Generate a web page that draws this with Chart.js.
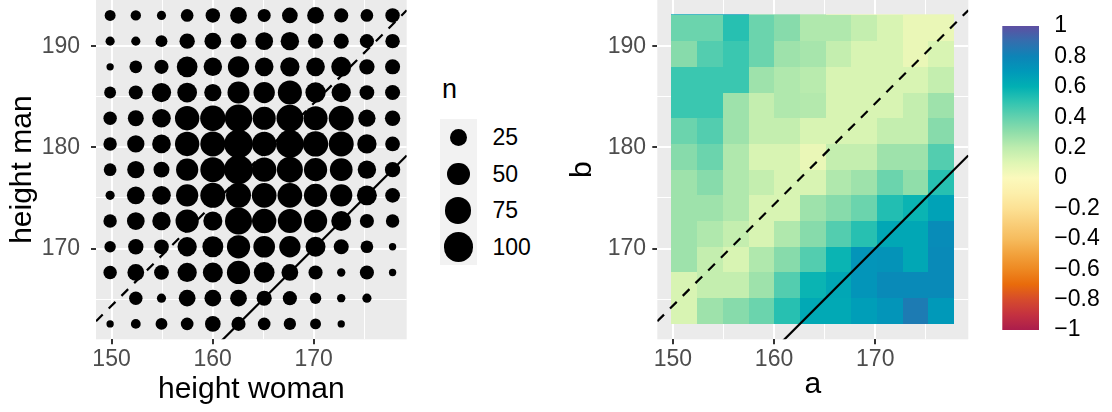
<!DOCTYPE html>
<html>
<head>
<meta charset="utf-8">
<script src="https://cdn.jsdelivr.net/npm/chart.js@4.4.1/dist/chart.umd.min.js"></script>
<style>
  html, body { margin:0; padding:0; background:#ffffff; width:1112px; height:412px; overflow:hidden;
               font-family:'Liberation Sans', Arial, Helvetica, sans-serif; }
  canvas { position:absolute; top:0; }
  #bubbleChart { left:0; }
  #heatChart { left:560px; }
  #colorBar { left:990px; }
  .lgText { position:absolute; white-space:nowrap; line-height:1; color:#000; }
  #sizeKeys { position:absolute; left:440px; top:119.3px; width:36.7px; height:145.7px; background:#F2F2F2; }
  .dot { position:absolute; background:#000; border-radius:50%; }
</style>
</head>
<body>
<canvas id="bubbleChart" width="420" height="412"></canvas>
<canvas id="heatChart" width="430" height="412"></canvas>
<canvas id="colorBar" width="122" height="412"></canvas>
<div id="sizeLegend"></div>

<script>
// ------------------------------------------------------------------ data
const womanHeights = [149.86, 152.40, 154.94, 157.48, 160.02, 162.56, 165.10, 167.64, 170.18, 172.72, 175.26, 177.80];
// listed from the top row (tallest) down to the bottom row
const manHeights = [193.04, 190.50, 187.96, 185.42, 182.88, 180.34, 177.80, 175.26, 172.72, 170.18, 167.64, 165.10, 162.56];

// number of couples for each (man height row, woman height column)
const counts = [
  [ 6,  5,  3, 10, 15, 23, 11, 19, 23, 14, 10, 15],
  [ 3,  3,  8, 18, 23, 20, 27, 30, 17, 17, 14, 15],
  [ 1, 10, 14, 41, 30, 44, 31, 34, 31, 37, 18, 17],
  [ 8, 14, 34, 36, 25, 48, 44, 60, 39, 34, 16, 17],
  [12, 20, 31, 62, 68, 82, 54, 78, 60, 66, 25, 18],
  [12, 25, 31, 62, 66, 92, 62, 85, 68, 66, 34, 16],
  [10, 25, 20, 49, 66, 95, 62, 73, 55, 52, 30, 18],
  [ 3, 27, 31, 49, 66, 66, 64, 64, 55, 49, 37, 16],
  [12, 27, 30, 55, 33, 80, 62, 60, 55, 37, 14, 12],
  [ 7, 18, 16, 34, 42, 55, 46, 44, 37, 17, 10,  1],
  [12, 23, 16, 34, 37, 55, 41, 23, 14,  2, 14,  1],
  [ 0, 12,  3, 23, 23, 23, 17, 14,  7,  2,  3,  0],
  [ 1,  4,  8, 10, 19, 14, 10,  9,  6,  1,  0,  0]
];
const sizeBreaks = [25, 50, 75, 100];

// heat map cells: row j spans manHeights[j+1]..manHeights[j], column i spans womanHeights[i]..womanHeights[i+1]
const heatValues = [
  [0.38, 0.38, 0.52, 0.38, 0.32, 0.23, 0.23, 0.18, 0.12, 0.06, 0.06],
  [0.32, 0.43, 0.48, 0.38, 0.27, 0.25, 0.18, 0.12, 0.12, 0.06, 0.12],
  [0.48, 0.48, 0.48, 0.27, 0.23, 0.21, 0.12, 0.12, 0.12, 0.12, 0.18],
  [0.48, 0.48, 0.27, 0.18, 0.23, 0.22, 0.12, 0.12, 0.12, 0.18, 0.27],
  [0.38, 0.43, 0.27, 0.18, 0.18, 0.12, 0.12, 0.12, 0.18, 0.18, 0.32],
  [0.32, 0.38, 0.23, 0.12, 0.12, 0.06, 0.18, 0.18, 0.27, 0.27, 0.43],
  [0.27, 0.32, 0.23, 0.18, 0.12, 0.12, 0.23, 0.27, 0.38, 0.30, 0.52],
  [0.27, 0.27, 0.23, 0.12, 0.12, 0.27, 0.32, 0.38, 0.53, 0.58, 0.66],
  [0.27, 0.23, 0.18, 0.12, 0.23, 0.32, 0.43, 0.52, 0.64, 0.64, 0.76],
  [0.27, 0.18, 0.12, 0.23, 0.32, 0.43, 0.58, 0.72, 0.73, 0.64, 0.77],
  [0.12, 0.18, 0.18, 0.27, 0.43, 0.58, 0.64, 0.72, 0.77, 0.77, 0.77],
  [0.12, 0.27, 0.32, 0.38, 0.52, 0.63, 0.63, 0.68, 0.72, 0.84, 0.70]
];
// thin sliver of tiles above the top row
const heatSliverValues = [0.65, 0.65, 0.70, 0.32, 0.32, 0.23, 0.08, 0.06, 0.06, 0.06, 0.06];
const heatSliverTop = 193.15;

const diagonalOffsets = { solid: 0, dashed: 14.35 };

const xMajorTicks = [150, 160, 170];
const xMinorTicks = [155, 165, 175];
const yMajorTicks = [170, 180, 190];
const yMinorTicks = [165, 175, 185];
const colorTicks = [-1, -0.8, -0.6, -0.4, -0.2, 0, 0.2, 0.4, 0.6, 0.8, 1];
const colorTickLabels = ['\u22121', '\u22120.8', '\u22120.6', '\u22120.4', '\u22120.2', '0', '0.2', '0.4', '0.6', '0.8', '1'];

// diverging palette (value -> colour)
const palette = [
  [-1.0, '#AB1D4C'], [-0.9, '#C43140'], [-0.8, '#D64B2C'], [-0.7, '#E96B0B'], [-0.6, '#EE8922'],
  [-0.5, '#F2A23D'], [-0.4, '#F6BC5E'], [-0.3, '#F9CE79'], [-0.2, '#FCE194'], [-0.1, '#FCEFAB'],
  [ 0.0, '#FBF9BC'], [ 0.1, '#DFF6B4'], [ 0.2, '#BDECAE'], [ 0.3, '#90DEAA'], [ 0.4, '#62D1AE'],
  [ 0.5, '#30C4B1'], [ 0.6, '#01B0B3'], [ 0.7, '#0099B9'], [ 0.8, '#0D84B7'], [ 0.9, '#346EAE'],
  [ 1.0, '#5E4FA2']
];

// ------------------------------------------------------------------ helpers
const FONT = "'Liberation Sans', Arial, Helvetica, sans-serif";
Chart.defaults.font.family = FONT;

function expand(vals) {
  const lo = Math.min(...vals), hi = Math.max(...vals), pad = (hi - lo) * 0.05;
  return [lo - pad, hi + pad];
}
const xLim = expand(womanHeights);
const yLim = expand(manHeights);

function sizeToDiameter(n) { return 4.85 + 2.48 * Math.sqrt(n); }

function hexToRgb(h) { return [parseInt(h.slice(1,3),16), parseInt(h.slice(3,5),16), parseInt(h.slice(5,7),16)]; }
function colorFor(v) {
  v = Math.max(-1, Math.min(1, v));
  for (let k = 0; k < palette.length - 1; k++) {
    const [v0, c0] = palette[k], [v1, c1] = palette[k + 1];
    if (v >= v0 && v <= v1) {
      const t = (v - v0) / (v1 - v0), a = hexToRgb(c0), b = hexToRgb(c1);
      return 'rgb(' + a.map((q, m) => Math.round(q + (b[m] - q) * t)).join(',') + ')';
    }
  }
  return palette[palette.length - 1][1];
}

function diagonal(off) {
  return [{ x: xLim[0], y: xLim[0] + off }, { x: xLim[1], y: xLim[1] + off }];
}

const panelBg = {
  id: 'panelBg',
  beforeDraw(chart) {
    const { ctx, chartArea: a } = chart;
    ctx.save();
    ctx.fillStyle = '#EBEBEB';
    ctx.fillRect(a.left, a.top, a.right - a.left, a.bottom - a.top);
    ctx.restore();
  }
};

function makeScales(o) {
  const xGrid = [...xMajorTicks, ...xMinorTicks].sort((a, b) => a - b);
  const yGrid = [...yMajorTicks, ...yMinorTicks].sort((a, b) => a - b);
  const isMajor = (list, c) => c.tick && list.includes(c.tick.value);
  return {
    x: {
      type: 'linear', min: xLim[0], max: xLim[1],
      afterBuildTicks: s => { s.ticks = xGrid.map(v => ({ value: v })); },
      afterFit: s => { s.height = o.xAxisHeight; s.paddingLeft = 0; s.paddingRight = 0; },
      ticks: { autoSkip: false, maxRotation: 0, minRotation: 0, padding: 1.7, color: '#4D4D4D',
               font: { family: FONT, size: 23 },
               callback: v => xMajorTicks.includes(v) ? String(v) : '' },
      grid: { color: '#FFFFFF', lineWidth: c => isMajor(xMajorTicks, c) ? 2 : 1,
              tickLength: 5, tickWidth: 2,
              tickColor: c => isMajor(xMajorTicks, c) ? '#333333' : 'rgba(0,0,0,0)' },
      border: { display: false },
      title: { display: true, text: o.xTitle, color: '#000000', font: { family: FONT, size: 30 },
               padding: { top: 0, bottom: o.xTitlePad } }
    },
    y: {
      type: 'linear', min: yLim[0], max: yLim[1],
      afterBuildTicks: s => { s.ticks = yGrid.map(v => ({ value: v })); },
      afterFit: s => { s.width = o.yAxisWidth; s.paddingTop = 0; s.paddingBottom = 0; },
      ticks: { autoSkip: false, padding: o.yTickPad, color: '#4D4D4D',
               font: { family: FONT, size: 23 },
               callback: v => yMajorTicks.includes(v) ? String(v) : '' },
      grid: { color: '#FFFFFF', lineWidth: c => isMajor(yMajorTicks, c) ? 2 : 1,
              tickLength: 5, tickWidth: 2,
              tickColor: c => isMajor(yMajorTicks, c) ? '#333333' : 'rgba(0,0,0,0)' },
      border: { display: false },
      title: { display: true, text: o.yTitle, color: '#000000', font: { family: FONT, size: 30 },
               padding: { top: o.yTitlePad, bottom: 0 } }
    }
  };
}

function lineDatasets() {
  return [
    { type: 'scatter', data: diagonal(diagonalOffsets.dashed), showLine: true, borderColor: '#000000',
      borderWidth: 2.2, borderDash: [9.5, 8.5], pointRadius: 0, clip: 0 },
    { type: 'scatter', data: diagonal(diagonalOffsets.solid), showLine: true, borderColor: '#000000',
      borderWidth: 2.2, pointRadius: 0, clip: 0 }
  ];
}

const commonOpts = {
  responsive: false, animation: false, events: [],
  plugins: { legend: { display: false }, tooltip: { enabled: false } }
};

// ------------------------------------------------------------------ left: bubble chart
const bubblePoints = [];
manHeights.forEach((yv, j) => {
  womanHeights.forEach((xv, i) => {
    const n = counts[j][i];
    if (n > 0) bubblePoints.push({ x: xv, y: yv, r: sizeToDiameter(n) / 2 });
  });
});

new Chart(document.getElementById('bubbleChart'), {
  type: 'bubble',
  data: {
    datasets: [
      { type: 'bubble', data: bubblePoints, backgroundColor: '#000000', borderWidth: 0, hoverRadius: 0 },
      ...lineDatasets()
    ]
  },
  options: Object.assign({}, commonOpts, {
    layout: { autoPadding: false, padding: { left: 0, top: 0, right: 13.3, bottom: 0 } },
    scales: makeScales({ xAxisHeight: 72.7, yAxisWidth: 96, yTickPad: 11, xTitle: 'height woman',
                         yTitle: 'height man', xTitlePad: 4, yTitlePad: 4.8 })
  }),
  plugins: [panelBg]
});

// ------------------------------------------------------------------ right: heat map
const heatTiles = {
  id: 'heatTiles',
  beforeDatasetsDraw(chart) {
    const { ctx, chartArea: a, scales: { x, y } } = chart;
    ctx.save();
    ctx.beginPath();
    ctx.rect(a.left, a.top, a.right - a.left, a.bottom - a.top);
    ctx.clip();
    for (let j = 0; j < heatValues.length; j++) {
      for (let i = 0; i < heatValues[j].length; i++) {
        const x0 = Math.round(x.getPixelForValue(womanHeights[i]));
        const x1 = Math.round(x.getPixelForValue(womanHeights[i + 1]));
        const y0 = Math.round(y.getPixelForValue(manHeights[j]));
        const y1 = Math.round(y.getPixelForValue(manHeights[j + 1]));
        ctx.fillStyle = colorFor(heatValues[j][i]);
        ctx.fillRect(x0, y0, x1 - x0, y1 - y0);
      }
    }
    for (let i = 0; i < heatSliverValues.length; i++) {
      const x0 = Math.round(x.getPixelForValue(womanHeights[i]));
      const x1 = Math.round(x.getPixelForValue(womanHeights[i + 1]));
      const y0 = y.getPixelForValue(heatSliverTop);
      const y1 = Math.round(y.getPixelForValue(manHeights[0]));
      ctx.fillStyle = colorFor(heatSliverValues[i]);
      ctx.fillRect(x0, y0, x1 - x0, y1 - y0);
    }
    ctx.restore();
  }
};

new Chart(document.getElementById('heatChart'), {
  type: 'scatter',
  data: { datasets: lineDatasets() },
  options: Object.assign({}, commonOpts, {
    layout: { autoPadding: false, padding: { left: 0, top: 0, right: 21.7, bottom: 0 } },
    scales: makeScales({ xAxisHeight: 72.7, yAxisWidth: 97.3, yTickPad: 6.3, xTitle: 'a',
                         yTitle: 'b', xTitlePad: 9.6, yTitlePad: 5.1 })
  }),
  plugins: [panelBg, heatTiles]
});

// ------------------------------------------------------------------ colour bar
const colorBarFill = {
  id: 'colorBarFill',
  beforeDatasetsDraw(chart) {
    const { ctx, chartArea: a, scales: { y } } = chart;
    const top = y.getPixelForValue(1), bot = y.getPixelForValue(-1);
    const g = ctx.createLinearGradient(0, bot, 0, top);
    palette.forEach(([v, c]) => g.addColorStop((v + 1) / 2, c));
    ctx.save();
    ctx.fillStyle = g;
    ctx.fillRect(a.left, top, a.right - a.left, bot - top);
    ctx.restore();
  }
};

new Chart(document.getElementById('colorBar'), {
  type: 'scatter',
  data: { datasets: [] },
  options: Object.assign({}, commonOpts, {
    layout: { autoPadding: false, padding: { left: 12.3, top: 26, right: 0, bottom: 82 } },
    scales: {
      x: { display: false, min: 0, max: 1 },
      y: {
        position: 'right', min: -1, max: 1,
        afterBuildTicks: s => { s.ticks = colorTicks.map(v => ({ value: v })); },
        afterFit: s => { s.width = 73; s.paddingTop = 0; s.paddingBottom = 0; },
        ticks: { autoSkip: false, padding: 15.3, color: '#000000', font: { family: FONT, size: 23 },
                 callback: (v) => colorTickLabels[colorTicks.indexOf(v)] ?? '' },
        grid: { display: false, drawTicks: false },
        border: { display: false }
      }
    }
  }),
  plugins: [colorBarFill]
});

// ------------------------------------------------------------------ size legend (HTML)
(function buildSizeLegend() {
  const root = document.getElementById('sizeLegend');
  const title = document.createElement('div');
  title.className = 'lgText';
  title.style.cssText = 'left:442px; top:75.9px; font-size:27px;';
  title.textContent = 'n';
  root.appendChild(title);

  const box = document.createElement('div');
  box.id = 'sizeKeys';
  root.appendChild(box);
  const boxTop = 119.3, boxW = 36.7, boxH = 145.7;
  const keyH = boxH / sizeBreaks.length;
  sizeBreaks.forEach((n, k) => {
    const d = sizeToDiameter(n);
    const cx = boxW / 2, cy = keyH * (k + 0.5);
    const dot = document.createElement('div');
    dot.className = 'dot';
    dot.style.width = d + 'px'; dot.style.height = d + 'px';
    dot.style.left = (cx - d / 2) + 'px'; dot.style.top = (cy - d / 2) + 'px';
    box.appendChild(dot);
    const lab = document.createElement('div');
    lab.className = 'lgText';
    lab.style.fontSize = '23px';
    lab.style.left = '492.5px';
    lab.style.top = (boxTop + cy - 0.49 * 23) + 'px';
    lab.textContent = String(n);
    root.appendChild(lab);
  });
})();
</script>
</body>
</html>
